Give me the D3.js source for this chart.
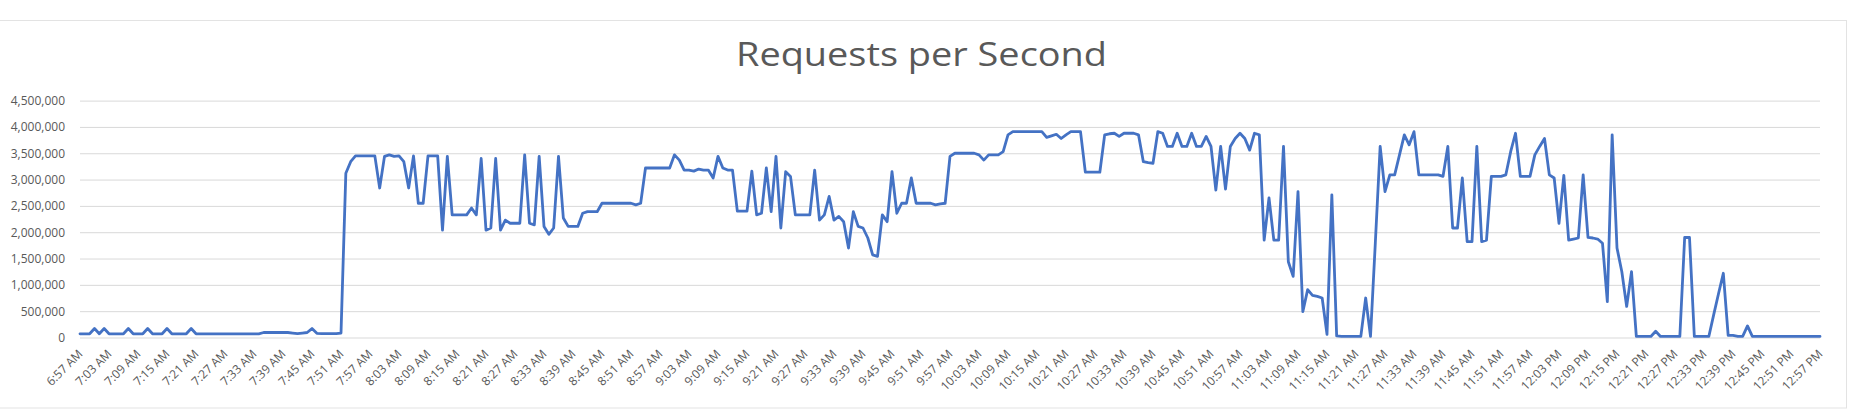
<!DOCTYPE html>
<html>
<head>
<meta charset="utf-8">
<script src="https://cdn.jsdelivr.net/npm/d3@7"></script>
<style>
  html, body { margin: 0; padding: 0; background: #ffffff; }
  svg { display: block; }
</style>
</head>
<body>
<svg id="chart" width="1857" height="415"></svg>
<script>
// ---------------- data ----------------
const chartTitle = "Requests per Second";
const startTime = "6:57 AM";          // first category, one sample per minute

const requestsPerSecond = [
  // 6:57 - 7:06
  70000, 70000, 70000, 170000, 70000, 170000, 70000, 70000, 70000, 70000,
  // 7:07 - 7:16
  170000, 70000, 70000, 70000, 170000, 70000, 70000, 70000, 170000, 70000,
  // 7:17 - 7:26
  70000, 70000, 70000, 170000, 70000, 70000, 70000, 70000, 70000, 70000,
  // 7:27 - 7:36
  70000, 70000, 70000, 70000, 70000, 70000, 70000, 70000, 95000, 95000,
  // 7:37 - 7:46
  95000, 95000, 95000, 95000, 85000, 75000, 85000, 95000, 170000, 80000,
  // 7:47 - 7:56
  75000, 75000, 75000, 75000, 85000, 3120000, 3340000, 3450000, 3450000, 3450000,
  // 7:57 - 8:06
  3450000, 3450000, 2840000, 3440000, 3470000, 3440000, 3450000, 3340000, 2840000, 3450000,
  // 8:07 - 8:16
  2550000, 2550000, 3450000, 3450000, 3450000, 2040000, 3440000, 2330000, 2330000, 2330000,
  // 8:17 - 8:26
  2330000, 2460000, 2330000, 3400000, 2040000, 2080000, 3400000, 2040000, 2230000, 2170000,
  // 8:27 - 8:36
  2170000, 2170000, 3470000, 2170000, 2140000, 3440000, 2110000, 1960000, 2080000, 3440000,
  // 8:37 - 8:46
  2270000, 2110000, 2110000, 2110000, 2360000, 2390000, 2390000, 2390000, 2550000, 2550000,
  // 8:47 - 8:56
  2550000, 2550000, 2550000, 2550000, 2550000, 2520000, 2550000, 3220000, 3220000, 3220000,
  // 8:57 - 9:06
  3220000, 3220000, 3220000, 3470000, 3370000, 3180000, 3180000, 3160000, 3200000, 3180000,
  // 9:07 - 9:16
  3180000, 3030000, 3440000, 3220000, 3180000, 3180000, 2400000, 2400000, 2400000, 3160000,
  // 9:17 - 9:26
  2330000, 2360000, 3220000, 2390000, 3440000, 2080000, 3150000, 3060000, 2330000, 2330000,
  // 9:27 - 9:36
  2330000, 2330000, 3180000, 2230000, 2330000, 2680000, 2230000, 2300000, 2200000, 1700000,
  // 9:37 - 9:46
  2390000, 2110000, 2080000, 1890000, 1570000, 1540000, 2330000, 2200000, 3150000, 2360000,
  // 9:47 - 9:56
  2550000, 2550000, 3030000, 2550000, 2550000, 2550000, 2550000, 2520000, 2540000, 2550000,
  // 9:57 - 10:06
  3440000, 3500000, 3500000, 3500000, 3500000, 3500000, 3470000, 3370000, 3470000, 3470000,
  // 10:07 - 10:16
  3470000, 3530000, 3850000, 3910000, 3910000, 3910000, 3910000, 3910000, 3910000, 3910000,
  // 10:17 - 10:26
  3800000, 3830000, 3860000, 3780000, 3850000, 3910000, 3910000, 3910000, 3140000, 3140000,
  // 10:27 - 10:36
  3140000, 3140000, 3850000, 3870000, 3880000, 3820000, 3880000, 3880000, 3880000, 3850000,
  // 10:37 - 10:46
  3340000, 3320000, 3310000, 3910000, 3880000, 3630000, 3630000, 3880000, 3630000, 3630000,
  // 10:47 - 10:56
  3880000, 3630000, 3630000, 3820000, 3630000, 2800000, 3630000, 2820000, 3630000, 3780000,
  // 10:57 - 11:06
  3880000, 3780000, 3560000, 3880000, 3850000, 1850000, 2650000, 1850000, 1850000, 3630000,
  // 11:07 - 11:16
  1440000, 1160000, 2770000, 490000, 910000, 800000, 780000, 750000, 60000, 2710000,
  // 11:17 - 11:26
  30000, 20000, 20000, 20000, 20000, 20000, 750000, 20000, 1800000, 3630000,
  // 11:27 - 11:36
  2770000, 3090000, 3090000, 3470000, 3850000, 3660000, 3910000, 3090000, 3090000, 3090000,
  // 11:37 - 11:46
  3090000, 3090000, 3060000, 3630000, 2080000, 2080000, 3030000, 1820000, 1820000, 3630000,
  // 11:47 - 11:56
  1820000, 1850000, 3060000, 3060000, 3060000, 3090000, 3530000, 3880000, 3060000, 3060000,
  // 11:57 - 12:06
  3060000, 3470000, 3630000, 3780000, 3090000, 3030000, 2170000, 3080000, 1850000, 1870000,
  // 12:07 - 12:16
  1890000, 3090000, 1900000, 1890000, 1870000, 1790000, 680000, 3850000, 1700000, 1250000,
  // 12:17 - 12:26
  590000, 1250000, 20000, 20000, 20000, 20000, 120000, 20000, 20000, 20000,
  // 12:27 - 12:36
  20000, 20000, 1900000, 1900000, 20000, 20000, 20000, 20000, 430000, 830000,
  // 12:37 - 12:46
  1220000, 40000, 40000, 20000, 20000, 220000, 20000, 20000, 20000, 20000,
  // 12:47 - 12:56
  20000, 20000, 20000, 20000, 20000, 20000, 20000, 20000, 20000, 20000,
  // 12:57
  20000
];

const yTickValues = [0, 500000, 1000000, 1500000, 2000000, 2500000, 3000000, 3500000, 4000000, 4500000];

const xTickLabels = [
  "6:57 AM", "7:03 AM", "7:09 AM", "7:15 AM", "7:21 AM", "7:27 AM", "7:33 AM", "7:39 AM", "7:45 AM", "7:51 AM",
  "7:57 AM", "8:03 AM", "8:09 AM", "8:15 AM", "8:21 AM", "8:27 AM", "8:33 AM", "8:39 AM", "8:45 AM", "8:51 AM",
  "8:57 AM", "9:03 AM", "9:09 AM", "9:15 AM", "9:21 AM", "9:27 AM", "9:33 AM", "9:39 AM", "9:45 AM", "9:51 AM",
  "9:57 AM", "10:03 AM", "10:09 AM", "10:15 AM", "10:21 AM", "10:27 AM", "10:33 AM", "10:39 AM", "10:45 AM", "10:51 AM",
  "10:57 AM", "11:03 AM", "11:09 AM", "11:15 AM", "11:21 AM", "11:27 AM", "11:33 AM", "11:39 AM", "11:45 AM", "11:51 AM",
  "11:57 AM", "12:03 PM", "12:09 PM", "12:15 PM", "12:21 PM", "12:27 PM", "12:33 PM", "12:39 PM", "12:45 PM", "12:51 PM",
  "12:57 PM"
];

// ---------------- categories (one per minute) ----------------
const parseTime = d3.timeParse("%-I:%M %p");
const formatTime = d3.timeFormat("%-I:%M %p");
const t0 = parseTime(startTime);
const categories = requestsPerSecond.map((_, i) => formatTime(d3.timeMinute.offset(t0, i)));

// ---------------- layout ----------------
const plot = { left: 80, right: 1820, top: 100.6, bottom: 337.5 };
const textColor = "#595959";
const gridColor = "#d9d9d9";
const lineColor = "#4472c4";
const tickFont = "'Open Sans', 'Liberation Sans', sans-serif";

const svg = d3.select("#chart");

// chart frame
svg.append("rect")
  .attr("x", -2).attr("y", 20.5)
  .attr("width", 1848.5).attr("height", 387.5)
  .attr("fill", "#ffffff")
  .attr("stroke", "#e3e3e3").attr("stroke-width", 1);

// scales
const x = d3.scalePoint().domain(categories).range([plot.left, plot.right]);
const y = d3.scaleLinear().domain([0, 4500000]).range([plot.bottom, plot.top]);

// y axis + gridlines
const yAxis = svg.append("g")
  .attr("transform", `translate(${plot.left},0)`)
  .call(d3.axisLeft(y)
    .tickValues(yTickValues)
    .tickFormat(d3.format(","))
    .tickSize(-(plot.right - plot.left))
    .tickPadding(15));
yAxis.select(".domain").remove();
yAxis.selectAll(".tick line").attr("stroke", gridColor).attr("stroke-width", 1);
yAxis.selectAll(".tick text")
  .attr("fill", textColor)
  .style("font-family", tickFont)
  .style("font-size", "12px");

// x axis labels
const xAxis = svg.append("g")
  .attr("transform", `translate(0,${plot.bottom})`)
  .call(d3.axisBottom(x).tickValues(xTickLabels).tickSize(0));
xAxis.select(".domain").remove();
xAxis.selectAll(".tick text")
  .attr("fill", textColor)
  .attr("y", null).attr("dy", null).attr("x", null)
  .attr("text-anchor", "end")
  .attr("transform", "translate(3,17) rotate(-45)")
  .style("font-family", tickFont)
  .style("font-size", "12px");

// line
const line = d3.line()
  .x((d, i) => x(categories[i]))
  .y(d => y(d))
  .curve(d3.curveLinear);

svg.append("path")
  .datum(requestsPerSecond)
  .attr("fill", "none")
  .attr("stroke", lineColor)
  .attr("stroke-width", 2.8)
  .attr("stroke-linejoin", "round")
  .attr("stroke-linecap", "round")
  .attr("d", line);

// title
svg.append("text")
  .attr("x", 921.5)
  .attr("y", 65.5)
  .attr("text-anchor", "middle")
  .attr("fill", textColor)
  .attr("textLength", 371)
  .attr("lengthAdjust", "spacingAndGlyphs")
  .style("font-family", "'Open Sans', sans-serif")
  .style("font-size", "32.5px")
  .text(chartTitle);
</script>
</body>
</html>
